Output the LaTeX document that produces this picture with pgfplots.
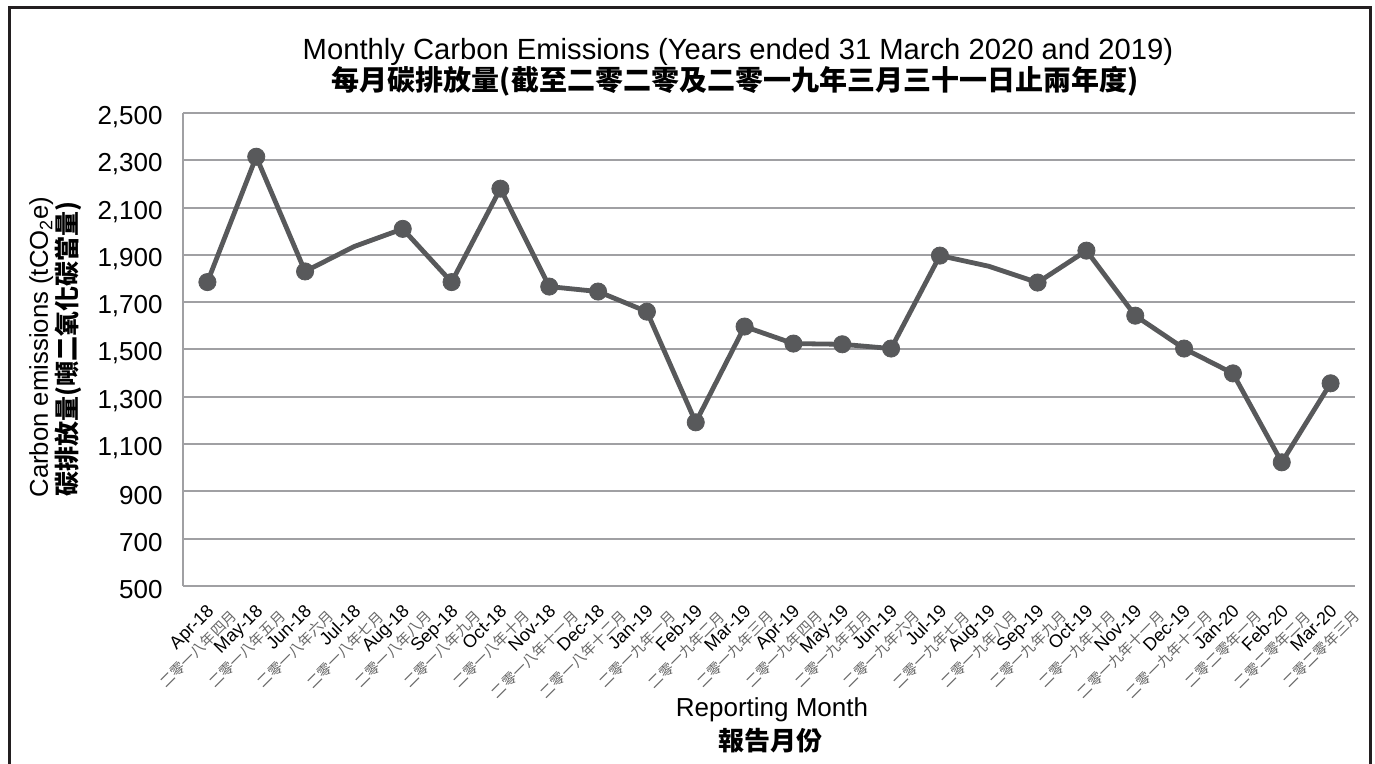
\documentclass[border=0pt]{standalone}
\usepackage{fontspec}
\setmainfont{Liberation Sans}
\newfontfamily\cjk{Noto Sans CJK TC}
\usepackage{pgfplots}
\usepackage{pgfplotstable}
\pgfplotsset{compat=1.18}
\definecolor{linec}{HTML}{58595B}
\definecolor{gridc}{HTML}{A0A0A3}
\definecolor{framec}{HTML}{231F20}
\newcommand{\tl}[2]{#1\hspace*{6pt}\\{\cjk\fontsize{7.2}{8}\selectfont\color{black!60}#2}}

\pgfplotstableread{
x y
0 1785
1 2315
2 1830
3 1935
4 2010
5 1785
6 2180
7 1766
8 1745
9 1660
10 1192
11 1597
12 1525
13 1522
14 1504
15 1897
16 1852
17 1783
18 1918
19 1643
20 1504
21 1399
22 1023
23 1357
}\emis

\pgfplotstableread{
x y
0 1785
1 2315
2 1830
4 2010
5 1785
6 2180
7 1766
8 1745
9 1660
10 1192
11 1597
12 1525
13 1522
14 1504
15 1897
17 1783
18 1918
19 1643
20 1504
21 1399
22 1023
23 1357
}\emismarks

\begin{document}
\begin{tikzpicture}
\begin{axis}[
  at={(0,0)}, anchor=south west,
  scale only axis, width=586pt, height=236.5pt,
  xmin=-0.5, xmax=23.5, ymin=500, ymax=2500,
  xtick={0,...,23}, ytick={500,700,...,2500},
  xticklabels={\tl{Apr-18}{二零一八年四月},\tl{May-18}{二零一八年五月},\tl{Jun-18}{二零一八年六月},\tl{Jul-18}{二零一八年七月},\tl{Aug-18}{二零一八年八月},\tl{Sep-18}{二零一八年九月},\tl{Oct-18}{二零一八年十月},\tl{Nov-18}{二零一八年十一月},\tl{Dec-18}{二零一八年十二月},\tl{Jan-19}{二零一九年一月},\tl{Feb-19}{二零一九年二月},\tl{Mar-19}{二零一九年三月},\tl{Apr-19}{二零一九年四月},\tl{May-19}{二零一九年五月},\tl{Jun-19}{二零一九年六月},\tl{Jul-19}{二零一九年七月},\tl{Aug-19}{二零一九年八月},\tl{Sep-19}{二零一九年九月},\tl{Oct-19}{二零一九年十月},\tl{Nov-19}{二零一九年十一月},\tl{Dec-19}{二零一九年十二月},\tl{Jan-20}{二零二零年一月},\tl{Feb-20}{二零二零年二月},\tl{Mar-20}{二零二零年三月}},
  axis x line*=bottom, axis y line*=left,
  axis line style={gridc, line width=1pt, -},
  tick style={draw=none},
  ymajorgrids, grid style={gridc, line width=1pt},
  yticklabel style={font=\fontsize{13}{15}\selectfont, inner sep=0pt, anchor=east, xshift=-10pt, yshift=-2pt},
  xticklabel style={xshift=3.5pt, yshift=-4pt, rotate=45, anchor=north east, align=right, inner sep=0pt, font=\fontsize{9}{10}\selectfont},
  /pgf/number format/1000 sep={,},
  /pgf/number format/assume math mode=true,
  clip=false,
]
\addplot[linec, line width=2.4pt, no markers] table[x=x,y=y] {\emis};
\addplot[only marks, mark=*, mark size=4.3pt, mark options={fill=linec, draw=linec}] table[x=x,y=y] {\emismarks};
\end{axis}
\draw[framec, line width=1.5pt] (-86.75pt,-100pt) -- (-86.75pt,289pt) -- (593.5pt,289pt) -- (593.5pt,-100pt);
\node[anchor=base, font=\fontsize{14.6}{16}\selectfont, inner sep=0pt] at (277.5pt,263pt) {Monthly Carbon Emissions (Years ended 31 March 2020 and 2019)};
\node[anchor=base, font=\cjk\bfseries\fontsize{14}{16}\selectfont, inner sep=0pt] at (276pt,247.5pt) {每月碳排放量(截至二零二零及二零一九年三月三十一日止兩年度)};
\node[rotate=90, anchor=base, inner sep=0pt, font=\fontsize{12.85}{15}\selectfont] at (-67.5pt,119.5pt) {Carbon emissions (tCO\textsubscript{2}e)};
\node[rotate=90, anchor=center, inner sep=0pt, font=\cjk\bfseries\fontsize{12.5}{14}\selectfont] at (-57.25pt,118.5pt) {碳排放量(噸二氧化碳當量)};
\node[anchor=base, font=\fontsize{13}{15}\selectfont, inner sep=0pt] at (294.5pt,-65.5pt) {Reporting Month};
\node[anchor=base, font=\cjk\bfseries\fontsize{13}{15}\selectfont, inner sep=0pt] at (293.5pt,-82.4pt) {報告月份};
\pgfresetboundingbox
\useasboundingbox (-91.5pt,-89pt) rectangle (596pt,293pt);
\end{tikzpicture}
\end{document}
